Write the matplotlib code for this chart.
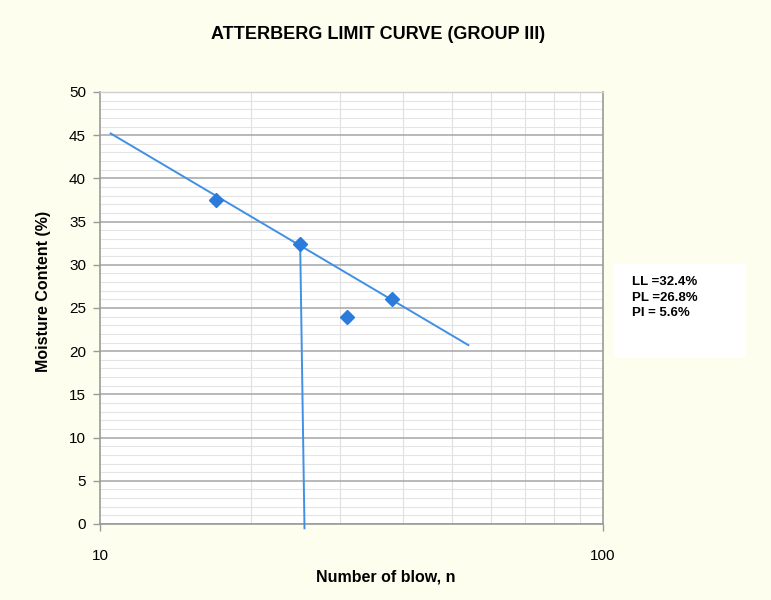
import numpy as np
import matplotlib.pyplot as plt
from matplotlib.ticker import MultipleLocator, FixedLocator, NullFormatter

plt.rcParams['font.family'] = ['Liberation Sans', 'DejaVu Sans']

# test points (number of blows, moisture content %)
blows = [17, 25, 31, 38]
moisture = [37.5, 32.4, 24.0, 26.0]

# flow line drawn through the points
trend_x = [10.5, 54]
trend_y = [45.2, 20.7]

# drop line at liquid limit
ll_x = [25, 25.5]
ll_y = [32.4, -0.5]

limits_text = "LL =32.4%\nPL =26.8%\nPI = 5.6%"

bg = '#fefeee'
blue = '#4090e4'

fig = plt.figure(figsize=(7.71, 6), dpi=100, facecolor=bg)
ax = fig.add_axes([0.1297, 0.1267, 0.6524, 0.72])
ax.set_facecolor('white')

ax.set_xscale('log')
ax.set_xlim(10, 100)
ax.set_ylim(0, 50)

ax.yaxis.set_major_locator(MultipleLocator(5))
ax.yaxis.set_minor_locator(MultipleLocator(1))
ax.xaxis.set_major_locator(FixedLocator([10, 100]))
ax.xaxis.set_minor_locator(FixedLocator(np.arange(20, 100, 10)))
ax.xaxis.set_major_formatter(plt.FuncFormatter(lambda v, p: '%d' % v))
ax.xaxis.set_minor_formatter(NullFormatter())

ax.grid(which='major', axis='y', color='#a6a6a6', linewidth=1.1)
ax.grid(which='minor', axis='y', color='#e4e4e4', linewidth=0.8)
ax.grid(which='minor', axis='x', color='#e0e0e0', linewidth=0.8)
ax.set_axisbelow(True)

for side in ['left', 'bottom', 'right']:
    ax.spines[side].set_color('#9a9a9a')
    ax.spines[side].set_linewidth(1.2)
ax.spines['top'].set_color('#cfcfcf')
ax.spines['top'].set_linewidth(1.0)

ax.tick_params(axis='both', which='major', direction='out', length=5,
               color='#9a9a9a', width=1.0, labelsize=11, pad=5)
ax.tick_params(axis='both', which='minor', length=0)
ax.tick_params(axis='x', which='major', pad=13)

ax.plot(trend_x, trend_y, color=blue, linewidth=1.4, zorder=3)
ax.plot(ll_x, ll_y, color=blue, linewidth=1.4, zorder=3, clip_on=False)
ax.plot(blows, moisture, linestyle='none', marker='D', markersize=7,
        color='#2b7bdc', zorder=4)

fig.text(0.49, 0.943, 'ATTERBERG LIMIT CURVE (GROUP III)', ha='center',
         va='center', fontsize=13, fontweight='bold')
fig.text(0.5, 0.038, 'Number of blow, n', ha='center', va='center',
         fontsize=11.5, fontweight='bold')
fig.text(0.057, 0.515, 'Moisture Content (%)', ha='center', va='center',
         rotation=90, fontsize=11.5, fontweight='bold')

box = plt.Rectangle((614 / 771, 1 - 358 / 600), 132 / 771, 94 / 600,
                    transform=fig.transFigure, facecolor='white',
                    edgecolor='none')
fig.patches.append(box)
fig.text(632 / 771, 1 - 276 / 600, limits_text, ha='left', va='top',
         fontsize=9.5, fontweight='bold', linespacing=1.4)

plt.savefig('out.png', dpi=100, facecolor=bg)
